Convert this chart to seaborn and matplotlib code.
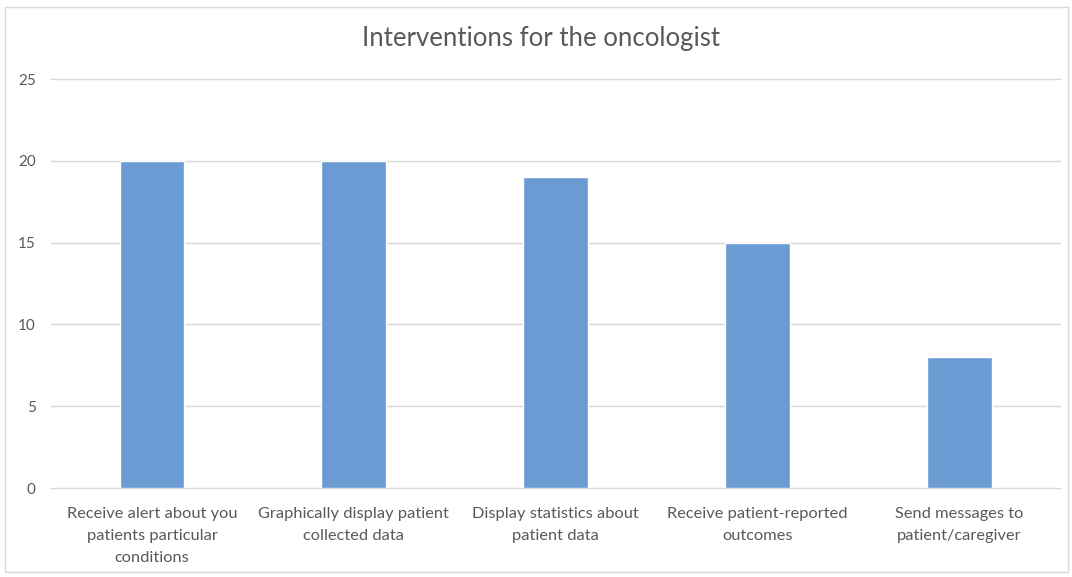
import matplotlib
matplotlib.use("Agg")
import matplotlib.pyplot as plt
from matplotlib.patches import Rectangle
import seaborn as sns
import pandas as pd

categories = [
    "Receive alert about you\npatients particular\nconditions",
    "Graphically display patient\ncollected data",
    "Display statistics about\npatient data",
    "Receive patient-reported\noutcomes",
    "Send messages to\npatient/caregiver",
]
counts = [20, 20, 19, 15, 8]
y_ticks = [0, 5, 10, 15, 20, 25]
title = "Interventions for the oncologist"

sns.set_theme(style="white")
plt.rcParams["font.family"] = ["Lato", "DejaVu Sans"]

df = pd.DataFrame({"category": categories, "count": counts})

fig = plt.figure(figsize=(10.72, 5.77), dpi=100)
ax = fig.add_axes([0.0476, 0.1542, 0.9414, 0.7088])

sns.barplot(data=df, x="category", y="count", color="#6A9BD2",
            width=0.32, saturation=1, ax=ax, zorder=3)

ax.set_ylim(0, 25)
ax.set_yticks(y_ticks)
ax.set_xlim(-0.5, len(categories) - 0.5)
ax.yaxis.grid(True, color="#D9D9D9", linewidth=1, zorder=0)
for gl in ax.yaxis.get_gridlines():
    gl.set_clip_on(False)
ax.set_axisbelow(True)
for s in ax.spines.values():
    s.set_visible(False)
ax.set_xlabel("")
ax.set_ylabel("")
ax.tick_params(axis="both", length=0, colors="#595959")
ax.tick_params(axis="y", pad=11, labelsize=11)
ax.tick_params(axis="x", pad=14, labelsize=11.8)
for lbl in ax.get_xticklabels():
    lbl.set_linespacing(1.7)

fig.text(0.505, 0.934, title, ha="center", va="center",
         fontsize=18.5, color="#595959")

fig.patches.append(Rectangle((5 / 1072, 5 / 577), 1063 / 1072, 565 / 577,
                             transform=fig.transFigure, fill=False,
                             edgecolor="#D9D9D9", linewidth=1))

fig.savefig("out.png", dpi=100, facecolor="white")
